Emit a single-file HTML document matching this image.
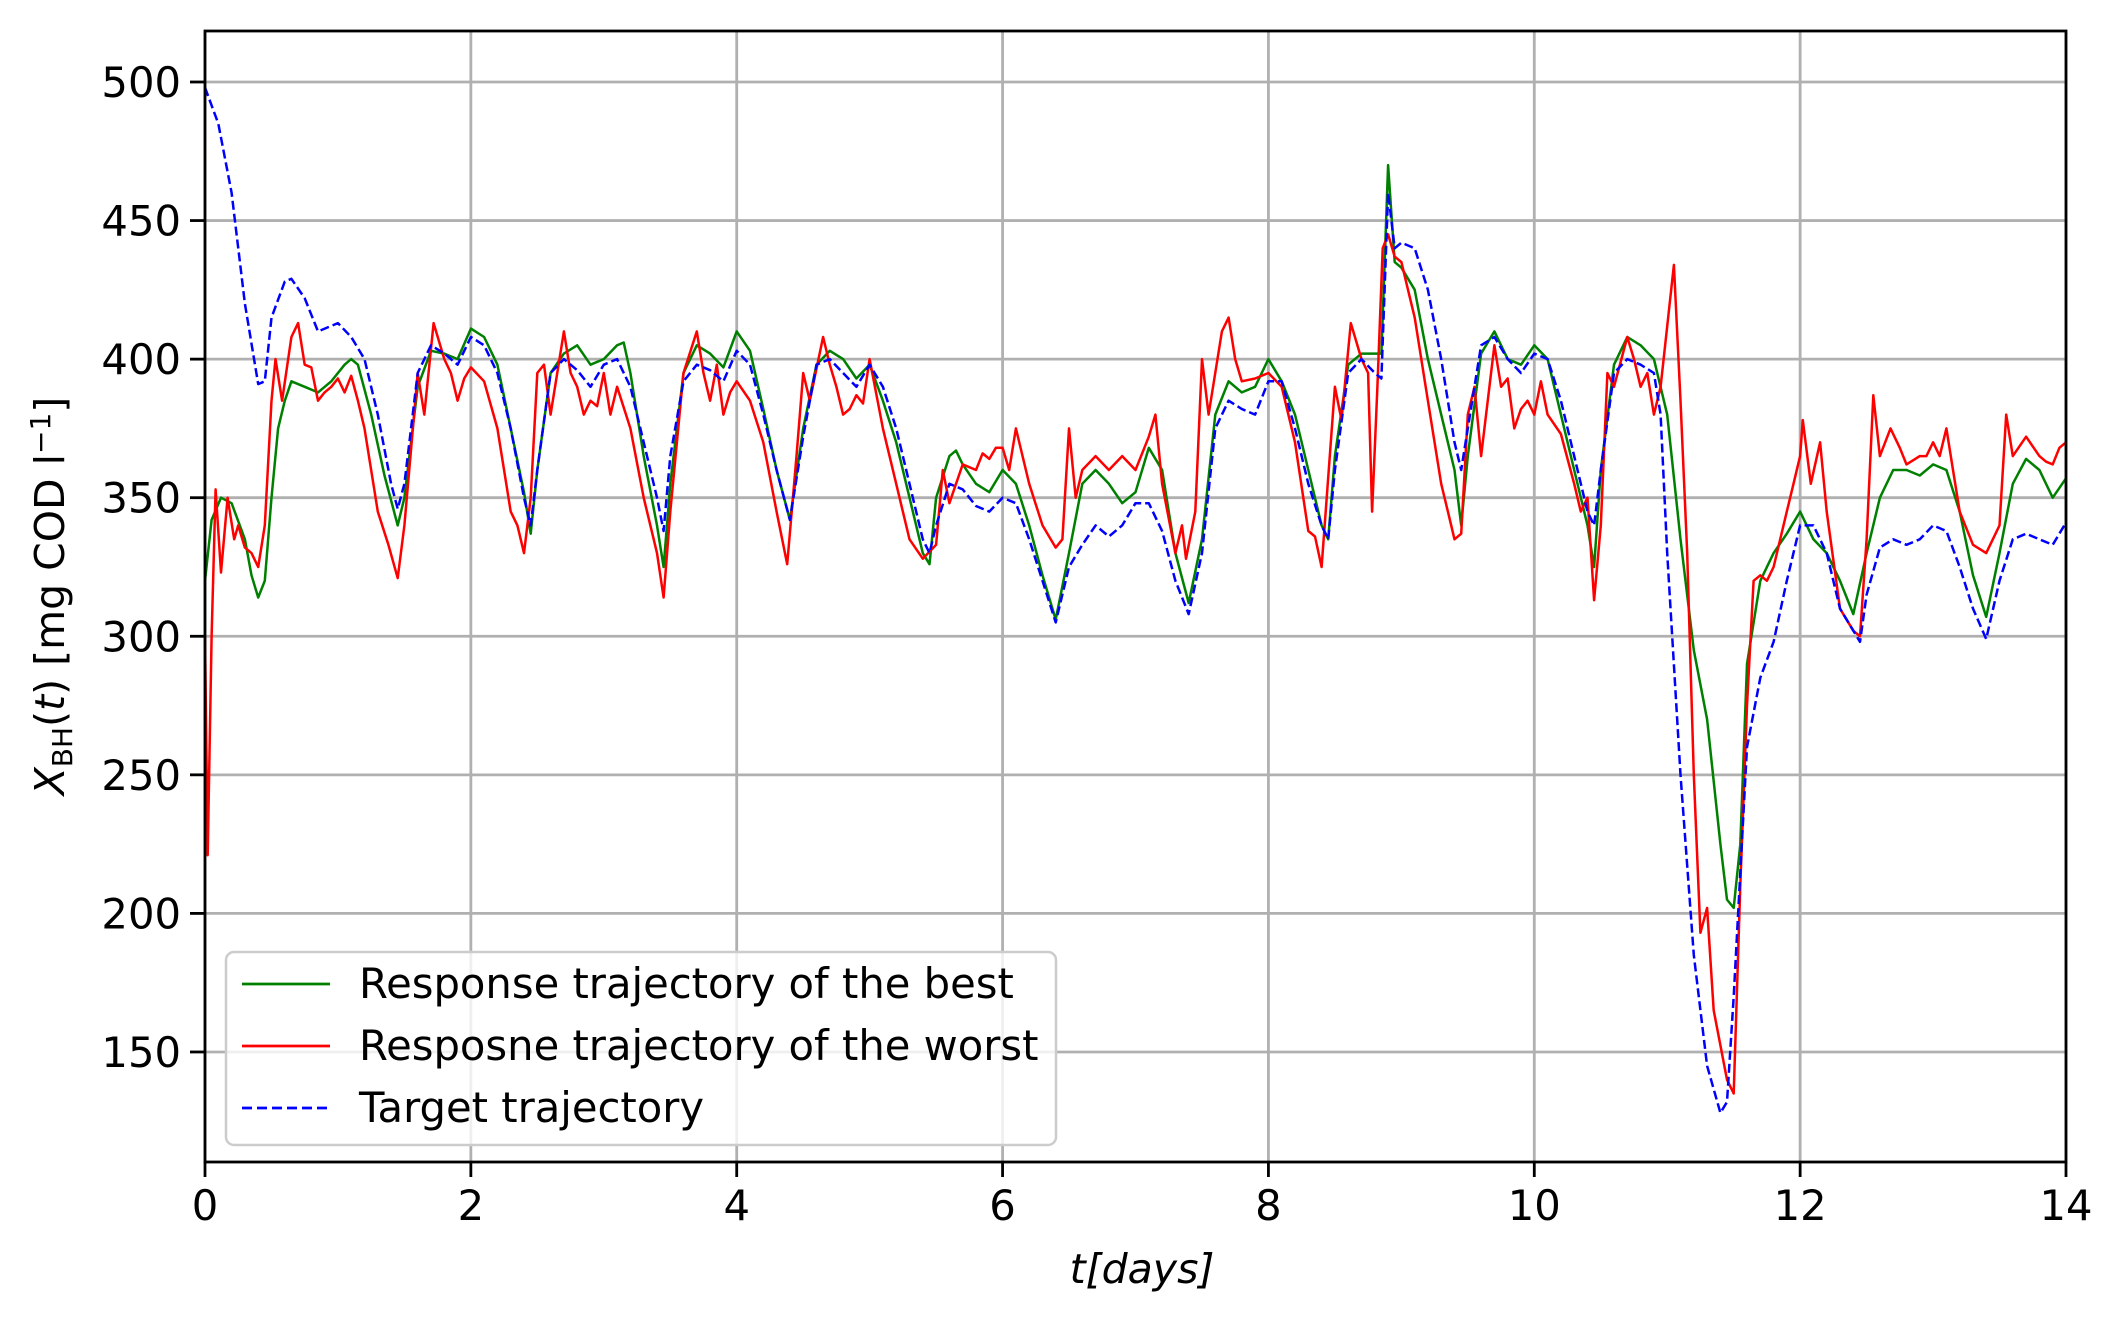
<!DOCTYPE html>
<html><head><meta charset="utf-8"><style>
body{margin:0;background:#fff}
svg text{font-family:"DejaVu Sans","Liberation Sans",sans-serif;fill:#000}
</style></head><body>
<svg id="chart" width="2121" height="1321" xmlns="http://www.w3.org/2000/svg">
<rect width="2121" height="1321" fill="#fff"/>
<g id="grid"></g>
<g id="series"></g>
<rect x="205" y="31" width="1861" height="1131" fill="none" stroke="#000" stroke-width="2.8"/>
<g id="ticks"></g>
<text x="1142" y="1283" font-size="41" text-anchor="middle" font-style="italic">t[days]</text>
<text transform="translate(64,596) rotate(-90)" font-size="41" text-anchor="middle"><tspan font-style="italic">X</tspan><tspan font-size="28" dy="8">BH</tspan><tspan dy="-8">(</tspan><tspan font-style="italic">t</tspan><tspan>) [mg COD l</tspan><tspan font-size="28" dy="-14">−1</tspan><tspan dy="14">]</tspan></text>
<g>
<rect x="226" y="952" width="830" height="193" rx="8" fill="#fff" fill-opacity="0.8" stroke="#ccc" stroke-width="2.5"/>
<line x1="242" y1="984" x2="330" y2="984" stroke="green" stroke-width="2.8"/>
<text x="359" y="998" font-size="41.7">Response trajectory of the best</text>
<line x1="242" y1="1046" x2="330" y2="1046" stroke="red" stroke-width="2.8"/>
<text x="359" y="1060" font-size="41.7">Resposne trajectory of the worst</text>
<line x1="242" y1="1108" x2="330" y2="1108" stroke="blue" stroke-width="2.8" stroke-dasharray="10,5"/>
<text x="359" y="1122" font-size="41.7">Target trajectory</text>
</g>
</svg>
<script>
const xTicks=[0,2,4,6,8,10,12,14];
const yTicks=[150,200,250,300,350,400,450,500];
const targetT=[0,0.1,0.2,0.3,0.4,0.45,0.5,0.6,0.65,0.75,0.85,0.95,1.0,1.1,1.2,1.3,1.4,1.45,1.5,1.6,1.7,1.8,1.9,2.0,2.1,2.2,2.3,2.4,2.45,2.5,2.6,2.7,2.8,2.9,3.0,3.1,3.2,3.3,3.4,3.45,3.5,3.6,3.7,3.8,3.9,4.0,4.1,4.2,4.3,4.4,4.5,4.6,4.7,4.8,4.9,5.0,5.1,5.2,5.3,5.4,5.45,5.5,5.6,5.7,5.8,5.9,6.0,6.1,6.2,6.3,6.4,6.5,6.6,6.7,6.8,6.9,7.0,7.1,7.2,7.3,7.4,7.5,7.6,7.7,7.8,7.9,8.0,8.1,8.2,8.3,8.4,8.45,8.5,8.6,8.7,8.8,8.85,8.9,8.95,9.0,9.1,9.2,9.3,9.4,9.45,9.5,9.6,9.7,9.8,9.9,10.0,10.1,10.2,10.3,10.4,10.45,10.5,10.6,10.7,10.8,10.9,10.95,11.0,11.1,11.2,11.3,11.4,11.45,11.5,11.6,11.7,11.8,11.9,12.0,12.1,12.2,12.3,12.45,12.5,12.6,12.7,12.8,12.9,13.0,13.1,13.2,13.3,13.4,13.5,13.6,13.7,13.8,13.9,14.0];
const targetV=[498,485,460,420,391,392,415,428,429,422,410,412,413,408,400,380,355,346,355,395,405,402,398,408,405,395,375,350,340,360,395,400,396,390,398,400,390,370,350,338,365,392,398,396,392,403,398,380,360,342,372,398,400,395,390,398,390,375,355,335,330,340,355,353,347,345,350,348,335,320,305,325,333,340,336,340,348,348,338,320,308,330,375,385,382,380,392,392,375,355,340,335,360,395,400,395,393,460,440,442,440,425,400,370,360,375,405,408,400,395,402,400,385,365,345,340,360,395,400,398,395,380,330,250,185,145,128,132,170,260,285,298,320,340,340,330,310,298,315,332,335,333,335,340,338,325,310,299,320,335,337,335,333,341];
const bestT=[0,0.05,0.12,0.2,0.3,0.35,0.4,0.45,0.5,0.55,0.6,0.65,0.75,0.85,0.95,1.05,1.1,1.15,1.25,1.35,1.45,1.5,1.6,1.7,1.8,1.9,2.0,2.1,2.2,2.3,2.4,2.45,2.5,2.6,2.7,2.8,2.9,3.0,3.1,3.15,3.2,3.3,3.4,3.45,3.5,3.6,3.7,3.8,3.9,4.0,4.1,4.2,4.3,4.4,4.5,4.6,4.7,4.8,4.9,5.0,5.1,5.2,5.3,5.4,5.45,5.5,5.6,5.65,5.7,5.8,5.9,6.0,6.1,6.2,6.3,6.4,6.5,6.6,6.7,6.8,6.9,7.0,7.1,7.2,7.3,7.4,7.5,7.6,7.7,7.8,7.9,8.0,8.1,8.2,8.3,8.4,8.45,8.5,8.6,8.7,8.8,8.85,8.9,8.95,9.0,9.1,9.2,9.3,9.4,9.45,9.5,9.6,9.7,9.8,9.9,10.0,10.1,10.2,10.3,10.4,10.45,10.5,10.6,10.7,10.8,10.9,11.0,11.1,11.2,11.3,11.4,11.45,11.5,11.55,11.6,11.7,11.8,11.9,12.0,12.1,12.2,12.3,12.4,12.5,12.6,12.7,12.8,12.9,13.0,13.1,13.2,13.3,13.4,13.5,13.6,13.7,13.8,13.9,14.0];
const bestV=[320,342,350,348,335,322,314,320,350,375,385,392,390,388,392,398,400,398,380,358,340,350,390,403,402,400,411,408,398,375,352,337,360,395,402,405,398,400,405,406,395,365,340,325,355,395,405,402,397,410,403,382,360,342,375,398,403,400,393,398,385,370,350,330,326,350,365,367,362,355,352,360,355,340,322,306,330,355,360,355,348,352,368,360,330,312,335,380,392,388,390,400,392,380,360,340,335,365,398,402,402,402,470,435,433,425,400,380,360,340,365,402,410,400,398,405,400,380,360,340,325,360,398,408,405,400,380,335,295,270,225,205,202,225,290,320,330,337,345,335,330,320,308,330,350,360,360,358,362,360,345,322,307,330,355,364,360,350,357];
const worstT=[0,0.02,0.05,0.08,0.12,0.17,0.22,0.25,0.3,0.35,0.4,0.45,0.5,0.53,0.58,0.65,0.7,0.75,0.8,0.85,0.9,0.95,1.0,1.05,1.1,1.15,1.2,1.3,1.38,1.45,1.5,1.6,1.65,1.72,1.8,1.85,1.9,1.95,2.0,2.1,2.2,2.3,2.35,2.4,2.45,2.5,2.55,2.6,2.7,2.75,2.8,2.85,2.9,2.95,3.0,3.05,3.1,3.2,3.3,3.4,3.45,3.5,3.6,3.7,3.75,3.8,3.85,3.9,3.95,4.0,4.1,4.2,4.3,4.38,4.45,4.5,4.55,4.65,4.7,4.75,4.8,4.85,4.9,4.95,5.0,5.1,5.2,5.3,5.4,5.5,5.55,5.6,5.7,5.8,5.85,5.9,5.95,6.0,6.05,6.1,6.2,6.3,6.4,6.45,6.5,6.55,6.6,6.7,6.8,6.9,7.0,7.1,7.15,7.2,7.3,7.35,7.38,7.45,7.5,7.55,7.65,7.7,7.75,7.8,7.9,8.0,8.1,8.2,8.3,8.35,8.4,8.5,8.55,8.62,8.7,8.75,8.78,8.82,8.86,8.9,8.95,9.0,9.05,9.1,9.2,9.3,9.35,9.4,9.45,9.5,9.55,9.6,9.7,9.75,9.8,9.85,9.9,9.95,10.0,10.05,10.1,10.2,10.3,10.35,10.4,10.45,10.5,10.55,10.6,10.7,10.75,10.8,10.85,10.9,10.95,11.05,11.1,11.15,11.2,11.25,11.3,11.35,11.45,11.5,11.55,11.6,11.65,11.7,11.75,11.8,11.9,11.95,12.0,12.02,12.08,12.15,12.2,12.3,12.4,12.45,12.5,12.55,12.6,12.68,12.75,12.8,12.9,12.95,13.0,13.05,13.1,13.15,13.2,13.3,13.4,13.5,13.55,13.6,13.7,13.8,13.85,13.9,13.95,14.0];
const worstV=[300,221,300,353,323,350,335,340,332,330,325,340,385,400,385,408,413,398,397,385,388,390,393,388,394,385,375,345,333,321,340,395,380,413,400,395,385,393,397,392,375,345,340,330,350,395,398,380,410,395,390,380,385,383,395,380,390,375,350,330,314,345,395,410,395,385,398,380,388,392,385,370,345,326,365,395,385,408,398,390,380,382,387,384,400,375,355,335,328,333,360,348,362,360,366,364,368,368,360,375,355,340,332,335,375,350,360,365,360,365,360,372,380,355,330,340,328,345,400,380,410,415,400,392,393,395,390,370,338,336,325,390,378,413,400,395,345,390,440,445,437,435,425,415,385,355,345,335,337,380,390,365,405,390,393,375,382,385,380,392,380,373,355,345,350,313,340,395,390,408,400,390,395,380,390,434,385,330,250,193,202,165,140,135,210,275,320,322,320,325,345,355,365,378,355,370,345,310,302,300,335,387,365,375,368,362,365,365,370,365,375,360,345,333,330,340,380,365,372,365,363,362,368,370];

const L=205,R=2066,T=31,B=1162,XMIN=0,XMAX=14,YMIN=110.3,YMAX=518.4;
const sx=t=>L+(t-XMIN)/(XMAX-XMIN)*(R-L);
const sy=v=>B-(v-YMIN)/(YMAX-YMIN)*(B-T);
const NS='http://www.w3.org/2000/svg';
function mk(tag,parent){const e=document.createElementNS(NS,tag);parent.appendChild(e);return e;}
const grid=document.getElementById('grid'),ticks=document.getElementById('ticks'),series=document.getElementById('series');
xTicks.forEach(t=>{
  const g=mk('line',grid);
  
  
  g.setAttribute('x1',sx(t));g.setAttribute('x2',sx(t));g.setAttribute('y1',T);g.setAttribute('y2',B);
  g.setAttribute('stroke','#b0b0b0');g.setAttribute('stroke-width','2.8');
  const k=mk('line',ticks);
  
  
  k.setAttribute('x1',sx(t));k.setAttribute('x2',sx(t));k.setAttribute('y1',B);k.setAttribute('y2',B+15);
  k.setAttribute('stroke','#000');k.setAttribute('stroke-width','2.8');
  const tx=mk('text',ticks);
  
  
  tx.setAttribute('x',sx(t));tx.setAttribute('y',B+58);tx.setAttribute('font-size','41.7');tx.setAttribute('text-anchor','middle');
  tx.textContent=t;
});
yTicks.forEach(v=>{
  const g=mk('line',grid);
  
  
  g.setAttribute('x1',L);g.setAttribute('x2',R);g.setAttribute('y1',sy(v));g.setAttribute('y2',sy(v));
  g.setAttribute('stroke','#b0b0b0');g.setAttribute('stroke-width','2.8');
  const k=mk('line',ticks);
  
  
  k.setAttribute('x1',L-15);k.setAttribute('x2',L);k.setAttribute('y1',sy(v));k.setAttribute('y2',sy(v));
  k.setAttribute('stroke','#000');k.setAttribute('stroke-width','2.8');
  const tx=mk('text',ticks);
  
  
  tx.setAttribute('x',L-24);tx.setAttribute('y',sy(v)+15);tx.setAttribute('font-size','41.7');tx.setAttribute('text-anchor','end');
  tx.textContent=v;
});
function line(ts,vs,color,dash,name){
  const p=mk('polyline',series);
  
  
  p.setAttribute('points',ts.map((t,i)=>sx(t).toFixed(1)+','+sy(vs[i]).toFixed(1)).join(' '));
  p.setAttribute('fill','none');p.setAttribute('stroke',color);p.setAttribute('stroke-width','2.5');
  p.setAttribute('stroke-linejoin','round');
  if(dash)p.setAttribute('stroke-dasharray',dash);
}
line(bestT,bestV,'green',null,'best-trajectory-line');
line(worstT,worstV,'red',null,'worst-trajectory-line');
line(targetT,targetV,'blue','9,4','target-trajectory-line');
</script>
</body></html>
